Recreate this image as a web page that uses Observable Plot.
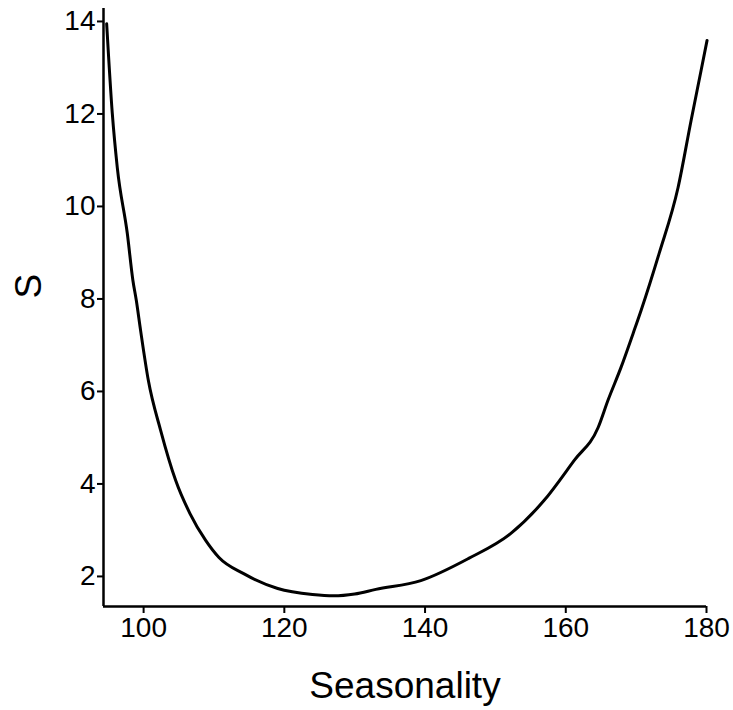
<!DOCTYPE html>
<html>
<head>
<meta charset="utf-8">
<script src="https://cdn.jsdelivr.net/npm/d3@7"></script>
<script src="https://cdn.jsdelivr.net/npm/@observablehq/plot@0.6"></script>
<style>
  html, body { margin: 0; padding: 0; background: #fff; }
  #chart { width: 733px; height: 710px; }
</style>
</head>
<body>
<div id="chart"></div>
<script>
// Curve
const seasonality = [94.75, 95.55, 96.26, 97.68, 98.48, 98.96, 99.57, 100.67, 102.42, 104.55, 106.59, 108.82, 110.71, 114.22, 119.06, 124.0, 127.0, 130.0, 133.0, 139.4, 146.2, 152.2, 156.9, 161.2, 164.6, 166.0, 167.85, 169.56, 170.7, 173.26, 175.96, 177.81, 179.23, 180.08];
const sValues = [13.95, 12.01, 10.84, 9.42, 8.40, 7.97, 7.32, 6.24, 5.16, 4.08, 3.36, 2.78, 2.41, 2.06, 1.74, 1.61, 1.58, 1.62, 1.72, 1.91, 2.39, 2.93, 3.64, 4.51, 5.22, 5.81, 6.52, 7.25, 7.75, 8.98, 10.41, 11.86, 12.94, 13.59];
const xTicks = [100, 120, 140, 160, 180];
const yTicks = [2, 4, 6, 8, 10, 12, 14];
const xDomain = [94.3, 180];
const yDomain = [1.35, 14.28];
const xTitle = ["Seasonality"];
const yTitle = ["S"];

const data = seasonality.map((x, i) => ({x, s: sValues[i]}));

const chart = Plot.plot({
  width: 733,
  height: 710,
  marginLeft: 103,
  marginRight: 27,
  marginTop: 8,
  marginBottom: 104,
  style: {fontFamily: "'Liberation Sans', Arial, sans-serif", color: "#000", background: "#fff", overflow: "visible"},
  x: {domain: xDomain},
  y: {domain: yDomain},
  marks: [
    Plot.axisX({ticks: xTicks, tickSize: 7, tickPadding: 4, fontSize: 28, strokeWidth: 2, label: null}),
    Plot.axisY({ticks: yTicks, tickSize: 6, tickPadding: 2, fontSize: 28, strokeWidth: 2, label: null}),
    Plot.ruleX([xDomain[0]], {stroke: "#000", strokeWidth: 2.5}),
    Plot.ruleY([yDomain[0]], {stroke: "#000", strokeWidth: 2.5}),
    Plot.line(data, {x: "x", y: "s", stroke: "#000", strokeWidth: 3, curve: "monotone-x"}),
    Plot.text(xTitle, {frameAnchor: "bottom", dy: 91, fontSize: 37, fill: "#000"}),
    Plot.text(yTitle, {frameAnchor: "left", dx: -74, dy: -9, rotate: -90, fontSize: 37, fill: "#000"})
  ]
});
document.getElementById("chart").appendChild(chart);
</script>
</body>
</html>
